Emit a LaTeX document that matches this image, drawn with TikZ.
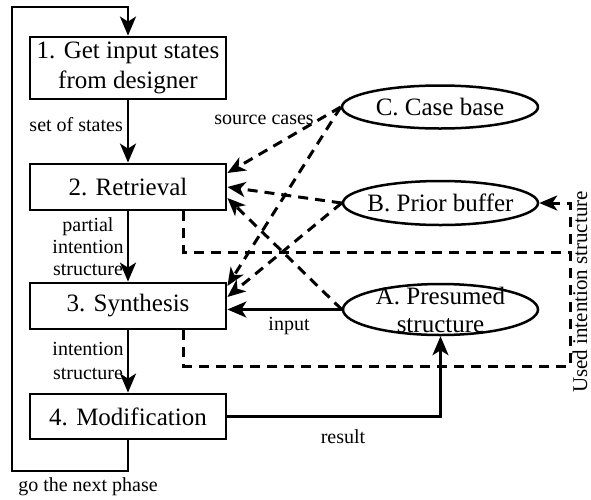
\documentclass[tikz,border=0pt]{standalone}
\usepackage{fontspec}
\setmainfont{Liberation Serif}
\usetikzlibrary{arrows.meta,shapes.geometric,calc}

\begin{document}
\begin{tikzpicture}[x=1pt,y=-1pt,
  stagebox/.style={draw, line width=2.8pt, minimum width=196pt, inner sep=0pt,
    font=\fontsize{25}{30}\selectfont, align=center},
  storeell/.style={draw, ellipse, line width=2.5pt, inner sep=0pt},
  storetext/.style={font=\fontsize{25}{28}\selectfont, align=center, inner sep=0pt},
  flow/.style={line width=2.7pt, -{Stealth[length=19pt,width=16pt,inset=5pt]}},
  dashline/.style={line width=3pt, dash pattern=on 10pt off 7pt},
  dashflow/.style={dashline, -{Stealth[length=18pt,width=15pt,inset=5pt]}},
  lbl/.style={font=\fontsize{20}{23}\selectfont, inner sep=0pt, align=center}]

\useasboundingbox (0,0) rectangle (591,499);

% process stages
\node[stagebox, minimum height=62pt] (s1) at (128,68) {1. Get input states\\from designer};
\node[stagebox, minimum height=46pt] (s2) at (128,187) {2. Retrieval};
\node[stagebox, minimum height=46pt] (s3) at (128,306) {3. Synthesis};
\node[stagebox, minimum height=45pt] (s4) at (128,416.5) {4. Modification};

% knowledge stores
\node[storeell, minimum width=196pt, minimum height=43pt] (C) at (440,107) {};
\node[storetext] at (C) {C. Case base};
\node[storeell, minimum width=195pt, minimum height=44pt] (B) at (440.5,203) {};
\node[storetext] at (B) {B. Prior buffer};
\node[storeell, minimum width=195pt, minimum height=51pt] (A) at (440.5,309.5) {};
\node[storetext] at (A) {A. Presumed\\structure};

% loop back to the first stage
\coordinate (loopB) at (12,471);
\coordinate (loopT) at (12,7);
\draw[flow] (s4.south) |- (loopB) -- (loopT) -| (s1.north);

% main flow
\draw[flow] (s1) -- (s2);
\draw[flow] (s2) -- (s3);
\draw[flow] (s3) -- (s4);

% store inputs
\draw[dashflow] (C.west) -- ([yshift=14pt]s2.east);
\draw[dashflow] (C.west) -- ([yshift=20pt]s3.east);
\draw[dashflow] (B.west) -- (s2.east);
\draw[dashflow] (B.west) -- ([yshift=9pt]s3.east);
\draw[dashflow] (A.west) -- ([yshift=-11pt]s2.east);
\draw[flow] (A.west) -- (A.west -| s3.east);
\draw[flow] (s4.east) -| (A.south);

% used intention structure fed back to the prior buffer
\coordinate (u1) at (570,252);
\coordinate (u2) at (570,366);
\coordinate (u3) at (570,203);
\draw[dashline] ([xshift=-44pt]s2.south east) |- (u1);
\draw[dashflow] ([xshift=-44pt]s3.south east) |- (u2) -- (u3) -- (B.east);

% labels
\node[lbl, anchor=east] at (123,125) {set of states};
\node[lbl, font=\fontsize{20}{22}\selectfont] at (88,247) {partial\\intention\\structure};
\node[lbl, font=\fontsize{20}{24}\selectfont] at (88,361) {intention\\structure};
\node[lbl] at (88,487) {go the next phase};
\node[lbl] at (264,120) {source cases};
\node[lbl] at (289,326) {input};
\node[lbl] at (343,437) {result};
\node[lbl, font=\fontsize{21}{24}\selectfont, rotate=90, anchor=base] at (587,292) {Used intention structure};
\end{tikzpicture}
\end{document}
